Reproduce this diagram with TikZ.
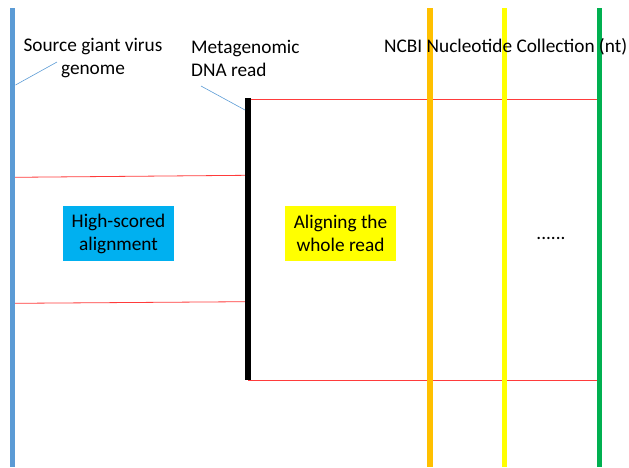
\documentclass[tikz,border=0pt]{standalone}
\usepackage{fontspec}
\setmainfont{Carlito}
\definecolor{srcblue}{HTML}{5B9BD5}
\definecolor{ntorange}{HTML}{FFC000}
\definecolor{ntyellow}{HTML}{FFFF00}
\definecolor{ntgreen}{HTML}{00B050}
\definecolor{boxblue}{HTML}{00B0F0}
\definecolor{hitred}{HTML}{FF3B3B}
\begin{document}
\begin{tikzpicture}[x=1pt,y=-1pt,
  seqline/.style={line width=5.5pt},
  hit/.style={draw=hitred, line width=0.8pt},
  callout/.style={draw=srcblue, line width=0.6pt},
  lbl/.style={font=\fontsize{19.3}{23}\selectfont, inner sep=0pt, align=center},
  box/.style={lbl, minimum width=111pt, minimum height=55pt}]
\useasboundingbox (0,0) rectangle (629,467);
% sequence end points
\coordinate (srcT) at (12.5,8);
\coordinate (srcB) at (12.5,467);
\coordinate (readT) at (248,98);
\coordinate (readB) at (248,380);
\coordinate (ntaT) at (430,8);
\coordinate (ntaB) at (430,467);
\coordinate (ntbT) at (504.5,8);
\coordinate (ntbB) at (504.5,467);
\coordinate (ntcT) at (599.5,8);
\coordinate (ntcB) at (599.5,467);
% alignment hit points
\coordinate (hitA1) at (14,177.3);
\coordinate (hitA2) at (246,175.3);
\coordinate (hitB1) at (14,303.3);
\coordinate (hitB2) at (246,301.7);
\coordinate (hitT1) at (248,99);
\coordinate (hitT2) at (599,99);
\coordinate (hitD1) at (248,380);
\coordinate (hitD2) at (599,380);
% alignments
\draw[hit] (hitA1) -- (hitA2);
\draw[hit] (hitB1) -- (hitB2);
\draw[hit] (hitT1) -- (hitT2);
\draw[hit] (hitD1) -- (hitD2);
% sequences
\draw[seqline, draw=srcblue] (srcT) -- (srcB);
\draw[seqline, draw=ntorange] (ntaT) -- (ntaB);
\draw[seqline, draw=ntyellow] (ntbT) -- (ntbB);
\draw[seqline, draw=ntgreen] (ntcT) -- (ntcB);
\draw[seqline, draw=black] (readT) -- (readB);
% labels
\node[lbl] (srcLbl) at (93,58.5) {Source giant virus\\genome};
\node[lbl, align=left, anchor=west] (readLbl) at (191,58.5) {Metagenomic\\DNA read};
\node[lbl, anchor=base west] (ntLbl) at (384,52) {NCBI Nucleotide Collection (nt)};
\node[box, fill=boxblue] (hsa) at (118.5,233.5) {High-scored\\alignment};
\node[box, fill=ntyellow] (awr) at (340.5,233.5) {Aligning the\\whole read};
\node[lbl] (more) at (551,238) {......};
% callouts
\coordinate (srcTip) at (57,62);
\coordinate (srcFoot) at (15.5,85);
\coordinate (readTip) at (201,86);
\coordinate (readFoot) at (245,110);
\draw[callout] (srcFoot) -- (srcTip);
\draw[callout] (readTip) -- (readFoot);
\end{tikzpicture}
\end{document}
